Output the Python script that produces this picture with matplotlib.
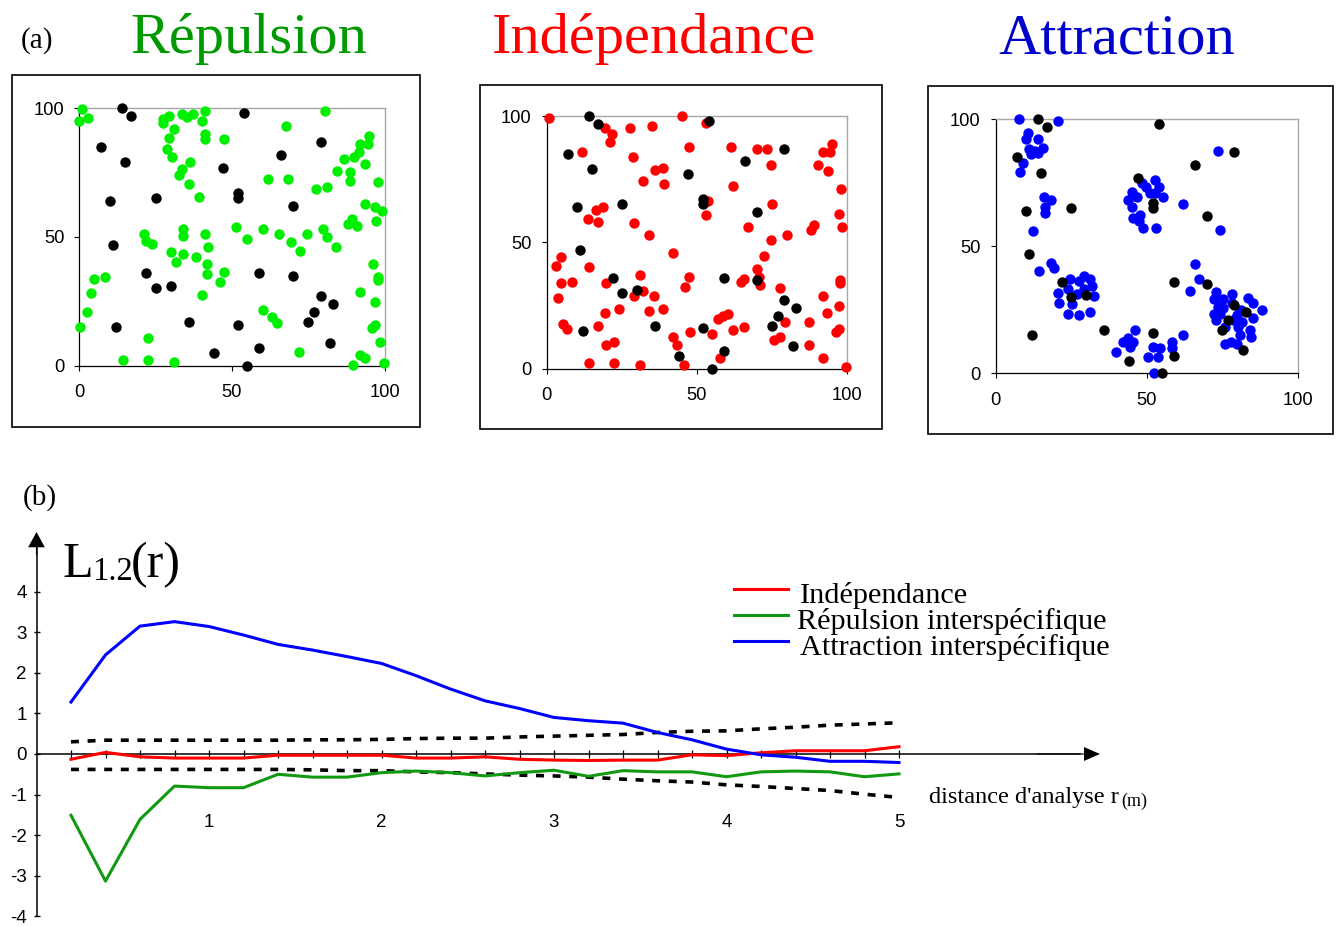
import matplotlib
matplotlib.use("Agg")
import matplotlib.pyplot as plt
from matplotlib.patches import Rectangle
from matplotlib.lines import Line2D

# ---------------- data ----------------
# species 1 (black, common to the three patterns)
black_x = [14, 17, 7, 15, 54, 79, 66, 47, 10, 25, 52, 52, 70, 11, 22, 25, 30, 59, 70, 79,
           83, 77, 75, 36, 12, 52, 59, 82, 44, 55]
black_y = [100, 97, 85, 79, 98, 87, 82, 77, 64, 65, 67, 65, 62, 47, 36, 30, 31, 36, 35, 27,
           24, 21, 17, 17, 15, 16, 7, 9, 5, 0]

# species 2 - repulsion (green)
green_x = [0.8, 0, 2.8, 27.5, 29.4, 27.5, 33.7, 35.3, 37.1, 41, 40.3, 41, 41, 31, 29.4, 28.8,
           30.4, 36.3, 33.5, 32.6, 35.8, 39.1, 47.3, 67.6, 80.5, 61.8, 68.2, 77.4, 81, 84.4,
           86.8, 88.5, 88.5, 90.1, 91.5, 91.8, 94.5, 94.9, 93.7, 97.8, 93.7, 96.7, 99.2, 97.3,
           88, 89.3, 91, 79.8, 81, 84, 74.6, 69.4, 72.3, 65.4, 60.1, 54.9, 51.4, 41, 42.2, 34,
           33.9, 21.2, 21.7, 23.7, 29.9, 34, 31.5, 38.1, 41.7, 41.7, 47.3, 46.1, 40.3, 4.9, 8.4,
           3.7, 2.6, 0.2, 22.4, 14.4, 22.4, 31, 60.1, 63, 64.7, 71.8, 89.6, 91.8, 93.5, 99.7,
           98.4, 96.7, 96, 96.7, 92, 97.8, 97.8, 96.2]
green_y = [99.6, 95.1, 96.4, 95.7, 97, 94.4, 97.7, 96.8, 97.7, 99, 95.1, 90, 88, 91.8, 88.6, 84.1,
           81, 79, 76.3, 74.1, 70.6, 65.4, 88, 93.1, 99, 72.5, 72.5, 68.7, 69.3, 75.8,
           80.3, 75.1, 71.9, 81, 82.9, 86.1, 86.1, 89.2, 78.4, 71.2, 62.8, 61.5, 60.2, 56.3,
           55.1, 57, 54.4, 53.1, 49.9, 46, 51.2, 47.9, 44.7, 51.2, 53.1, 49.2, 53.8, 51.2, 46, 53.1,
           50.5, 51.2, 48.6, 47.3, 44, 43.4, 40.2, 42.1, 39.5, 35.8, 36.4, 32.5, 27.3, 33.8, 34.5,
           28.1, 21, 15.2, 10.6, 2.2, 2.2, 1.6, 21.6, 19, 16.5, 5.4, 0.4, 4.1, 2.8, 0.9,
           9.3, 15.8, 14.5, 24.9, 28.8, 34.5, 33.2, 39.6]

# species 2 - independence (red)
red_x = [0.8, 19.3, 21.9, 21.2, 27.7, 35.1, 45.1, 53.1, 11.9, 28.7, 47.3, 61.3, 70, 73.4, 74.7,
         90.3, 92, 94.4, 95, 93.9, 98, 36.2, 38.7, 32.2, 39.2, 62, 53.9, 53.2, 75.2, 97.5, 98.4,
         89.1, 88.1, 80, 74.7, 72.3, 67.1, 34, 29.2, 16.4, 18.8, 13.6, 17.1, 42.1, 3.2, 4.9,
         14.1, 4.9, 8.4, 3.7, 19.9, 31.1, 32.2, 29.2, 35.8, 34, 38.7, 24.1, 19.3, 47.3, 46.2,
         64.9, 65.6, 70, 70.8, 71.1, 77.7, 92, 97.5, 97.9, 97.9, 93.3, 87.4, 79.3, 97.5, 96.3,
         87.4, 77.7, 75.6, 92.2, 99.7, 62, 65.6, 57.1, 58.9, 60.3, 55, 57.7, 47.9, 42.1, 43.3,
         45.7, 31.1, 22.3, 14.1, 17.1, 5.3, 6.6, 19.9, 22.3]
red_y = [99.3, 95.4, 92.7, 89.6, 95.4, 96, 100, 97.4, 85.8, 83.8, 87.7, 87.7, 87.1, 87.1, 80.6,
         80.6, 85.8, 85.8, 89, 78.1, 71, 78.8, 79.4, 74.3, 73, 72.4, 66.5, 60.7, 65.2, 61.3, 56.2,
         56.9, 54.9, 52.9, 51.1, 44.6, 56.2, 52.9, 57.5, 62.7, 64, 59.4, 58.2, 45.9, 40.8, 44.1,
         40.1, 33.8, 34.4, 28, 33.8, 36.9, 30.6, 28.6, 28.6, 22.8, 23.5, 23.5, 22.2, 36.3, 32.5,
         34.4, 35.6, 39.4, 36.3, 33.1, 31.8, 28.6, 24.8, 33.8, 35, 22.2, 18.3, 18.3, 15.8, 14.5,
         9.4, 12.5, 11.2, 4.2, 0.8, 15.2, 16.5, 19.7, 20.8, 21.5, 13.9, 4.2, 14.5, 12.5, 9.4,
         1.5, 1.5, 2.1, 2.1, 17, 17.7, 15.7, 9.4, 10.6]

# species 2 - attraction (blue)
blue_x = [7.6, 20.6, 10.6, 10, 14.1, 11.1, 11.7, 14.1, 15.6, 13, 8.9, 8.2, 15.9, 18.3, 16.4, 16.4,
          12.5, 14.2, 18.3, 19.4,
          24.6, 27.6, 29.3, 31.2, 31.8, 32.6, 29.3, 27, 24, 20.5, 20.9, 25.4, 24, 27.6, 31.1,
          45.1, 43.9, 45.1, 46.8, 48.5, 49.8, 51.1, 52.8, 54.1, 55.5, 52.8, 45.4, 47.9, 48.8,
          53.2, 47.5,
          62, 74.3, 73.6, 66, 67.3, 64.3,
          73, 72.3, 75.3, 78.1, 73.5, 74.3, 72.3, 73, 76, 78.1, 81.1, 83.7, 85.1, 85.3, 88.3,
          84.2, 84.6, 80.9, 80.3, 78.7, 79.8, 81.4, 75.9, 77.8, 80, 75.4,
          39.8, 42, 43.9, 46.2, 44.5, 45.6, 50.3, 52.2, 54.4, 53.9, 58.5, 58.5, 62, 52.5]
blue_y = [100, 99.2, 94.8, 92.1, 92.1, 88.2, 86.2, 86.9, 88.8, 87.5, 82.9, 79.1, 69.4, 68.1, 65.5, 63,
          55.9, 40.3, 43.6, 41.6,
          37, 36.4, 38.3, 37, 34.4, 30.4, 33.1, 31.1, 33.1, 31.8, 27.8, 27.2, 23.5, 22.8, 24.1,
          71.4, 68.2, 65.6, 69.6, 74.8, 73.5, 70.9, 76.1, 73.5, 69.6, 70.9, 61.2, 62.5, 57.3,
          57.3, 59.9,
          66.8, 56.4, 87.5, 43.2, 37.3, 32.5,
          31.9, 29.3, 29.3, 31.2, 26, 23.5, 23.5, 20.9, 18.4, 27.6, 24.9, 29.5, 27.6, 21.7, 24.9,
          17.1, 14.4, 15.1, 18.4, 20.9, 22.8, 20.2, 11.4, 12.5, 11.5, 25.7,
          8.5, 12.5, 13.8, 17.1, 10.5, 12.5, 6.6, 10.5, 9.8, 6.6, 12.5, 9.8, 15.1, 0]

# L function (panel b)
r = [0.2, 0.4, 0.6, 0.8, 1.0, 1.2, 1.4, 1.6, 1.8, 2.0, 2.2, 2.4, 2.6, 2.8, 3.0,
     3.2, 3.4, 3.6, 3.8, 4.0, 4.2, 4.4, 4.6, 4.8, 5.0]
L_indep = [-0.13, 0.04, -0.07, -0.10, -0.10, -0.10, -0.03, -0.03, -0.03, -0.03, -0.10, -0.10,
           -0.07, -0.13, -0.15, -0.16, -0.15, -0.15, -0.02, -0.04, 0.03, 0.08, 0.08, 0.08, 0.18]
L_repul = [-1.51, -3.13, -1.61, -0.79, -0.83, -0.83, -0.50, -0.57, -0.57, -0.46, -0.42, -0.46,
           -0.54, -0.46, -0.40, -0.55, -0.41, -0.44, -0.44, -0.56, -0.44, -0.42, -0.44, -0.56, -0.49]
L_attr = [1.28, 2.44, 3.15, 3.26, 3.14, 2.93, 2.70, 2.56, 2.40, 2.23, 1.93, 1.60, 1.31, 1.12,
          0.90, 0.82, 0.76, 0.53, 0.35, 0.12, -0.02, -0.08, -0.18, -0.18, -0.21]
env_hi = [0.30, 0.34, 0.34, 0.34, 0.34, 0.34, 0.34, 0.35, 0.35, 0.36, 0.38, 0.39, 0.39, 0.42,
          0.44, 0.46, 0.48, 0.53, 0.56, 0.57, 0.62, 0.66, 0.71, 0.74, 0.77]
env_lo = [-0.38, -0.38, -0.38, -0.38, -0.38, -0.38, -0.38, -0.39, -0.41, -0.41, -0.44, -0.46,
          -0.49, -0.52, -0.54, -0.57, -0.62, -0.66, -0.69, -0.76, -0.80, -0.85, -0.90, -0.99, -1.07]

y_ticks = [-4, -3, -2, -1, 0, 1, 2, 3, 4]
titles = ["Répulsion", "Indépendance", "Attraction"]
legend_labels = ["Indépendance", "Répulsion interspécifique", "Attraction interspécifique"]

# ---------------- figure ----------------
W, H = 1339, 926
fig = plt.figure(figsize=(W / 100, H / 100), dpi=100)
SERIF = "Liberation Serif"
SANS = "Liberation Sans"


def box(x0, y0, x1, y1):
    return [x0 / W, 1 - y1 / H, (x1 - x0) / W, (y1 - y0) / H]


def pt(x, y):
    return (x / W, 1 - y / H)


# ---- panel (b) axes: pixel-calibrated data space ----
X0, XS = 36.5, 172.5     # pixel of r=0, pixels per unit
Y0, YS = 754.0, 40.6     # pixel of L=0, pixels per unit
axb = fig.add_axes([0, 0, 1, 1], facecolor="none", zorder=0)
axb.set_xlim(-X0 / XS, (W - X0) / XS)
axb.set_ylim((Y0 - H) / YS, Y0 / YS)
for s in ("top", "right"):
    axb.spines[s].set_visible(False)
axb.spines["left"].set_position(("data", 0))
axb.spines["bottom"].set_position(("data", 0))
axb.spines["left"].set_bounds(-4, 5.1)
axb.spines["bottom"].set_bounds(0, 6.05)
axb.spines["left"].set_linewidth(1.1)
axb.spines["bottom"].set_linewidth(1.1)

axb.set_yticks(y_ticks)
axb.set_yticklabels([str(v) for v in y_ticks])
axb.set_xticks(r)
axb.set_xticklabels([str(int(round(v))) if abs(v - round(v)) < 1e-6 else "" for v in r])
axb.tick_params(axis="y", direction="inout", length=5, width=1, pad=4.5,
                labelsize=13.5, labelfontfamily=SANS)
axb.tick_params(axis="x", direction="inout", length=6, width=0.9, pad=40,
                labelsize=13.5, labelfontfamily=SANS)

# arrow heads
axb.annotate("", xy=(0, (Y0 - 532) / YS), xytext=(0, 4.9),
             arrowprops=dict(facecolor="k", edgecolor="k", width=0.8, headwidth=12,
                             headlength=11, shrink=0, lw=0))
axb.annotate("", xy=((1100 - X0) / XS, 0), xytext=(5.8, 0),
             arrowprops=dict(facecolor="k", edgecolor="k", width=0.8, headwidth=10,
                             headlength=11.5, shrink=0, lw=0))

dot = (0, (2.2, 2.4))
axb.plot(r, env_hi, color="k", lw=2.6, ls=dot, zorder=2)
axb.plot(r, env_lo, color="k", lw=2.6, ls=dot, zorder=2)
axb.plot(r, L_repul, color="#119911", lw=2.2, zorder=3)
axb.plot(r, L_indep, color="#ff0000", lw=2.2, zorder=3)
axb.plot(r, L_attr, color="#0000ff", lw=2.2, zorder=4)

# L1.2(r) label
fig.text(*pt(62, 577), "L", fontsize=36, family=SERIF, va="baseline")
fig.text(*pt(92, 580), "1.2", fontsize=23.5, family=SERIF, va="baseline")
fig.text(*pt(131, 577), "(r)", fontsize=36, family=SERIF, va="baseline")

# x-axis title
fig.text(*pt(929, 803), "distance d'analyse r", fontsize=17.5, family=SERIF, va="baseline")
fig.text(*pt(1121, 806), "(m)", fontsize=13, family=SERIF, va="baseline")

# legend (manual)
leg_cols = ["#ff0000", "#119911", "#0000ff"]
leg_line_y = [589, 615, 641]
leg_text_y = [603, 629, 655]
leg_text_x = [800, 797, 800]
for lab, col, ly, ty, tx in zip(legend_labels, leg_cols, leg_line_y, leg_text_y, leg_text_x):
    fig.add_artist(Line2D([734 / W, 788 / W], [1 - ly / H, 1 - ly / H], color=col, lw=2.2,
                          transform=fig.transFigure))
    fig.text(*pt(tx, ty), lab, fontsize=21.8, family=SERIF, va="baseline")

# (a), (b)
fig.text(*pt(21, 48), "(a)", fontsize=21, family=SERIF, va="baseline")
fig.text(*pt(23, 505), "(b)", fontsize=21, family=SERIF, va="baseline")

# ---- panel (a): three point patterns ----
panels = [
    dict(frame=(12, 75, 420, 427), inner=(79.3, 108.3, 384.7, 365.7), x=green_x, y=green_y,
         col="#00ee00", title=titles[0], tcol="#009900", tx=248.5),
    dict(frame=(480, 85, 882, 429), inner=(546.7, 116, 846.7, 368.7), x=red_x, y=red_y,
         col="#ff0000", title=titles[1], tcol="#ff0000", tx=654),
    dict(frame=(928, 86, 1333, 434), inner=(995.7, 119.3, 1297.7, 373.3), x=blue_x, y=blue_y,
         col="#0000ff", title=titles[2], tcol="#0000cc", tx=1117),
]
for p in panels:
    fx0, fy0, fx1, fy1 = p["frame"]
    fig.add_artist(Rectangle(pt(fx0, fy1), (fx1 - fx0) / W, (fy1 - fy0) / H, fill=False,
                             ec="k", lw=1.2, transform=fig.transFigure))
    ax = fig.add_axes(box(*p["inner"]), zorder=5)
    ax.set_facecolor("none")
    ax.scatter(p["x"], p["y"], s=56, c=p["col"], linewidths=0, clip_on=False, zorder=3)
    ax.scatter(black_x, black_y, s=56, c="k", linewidths=0, clip_on=False, zorder=4)
    ax.set_xlim(0, 100)
    ax.set_ylim(0, 100)
    ax.set_xticks([0, 50, 100])
    ax.set_yticks([0, 50, 100])
    for s in ("top", "right"):
        ax.spines[s].set_color("#a8a8a8")
        ax.spines[s].set_linewidth(1.0)
    for s in ("left", "bottom"):
        ax.spines[s].set_color("k")
        ax.spines[s].set_linewidth(0.9)
    ax.tick_params(axis="both", direction="out", length=3.8, width=0.8,
                   labelsize=13.2, labelfontfamily=SANS)
    ax.tick_params(axis="x", pad=9.5)
    ax.tick_params(axis="y", pad=7)
    fig.text(*pt(p["tx"], 53), p["title"], fontsize=42, family=SERIF, color=p["tcol"],
             ha="center", va="baseline")

fig.savefig("out.png", dpi=100)
